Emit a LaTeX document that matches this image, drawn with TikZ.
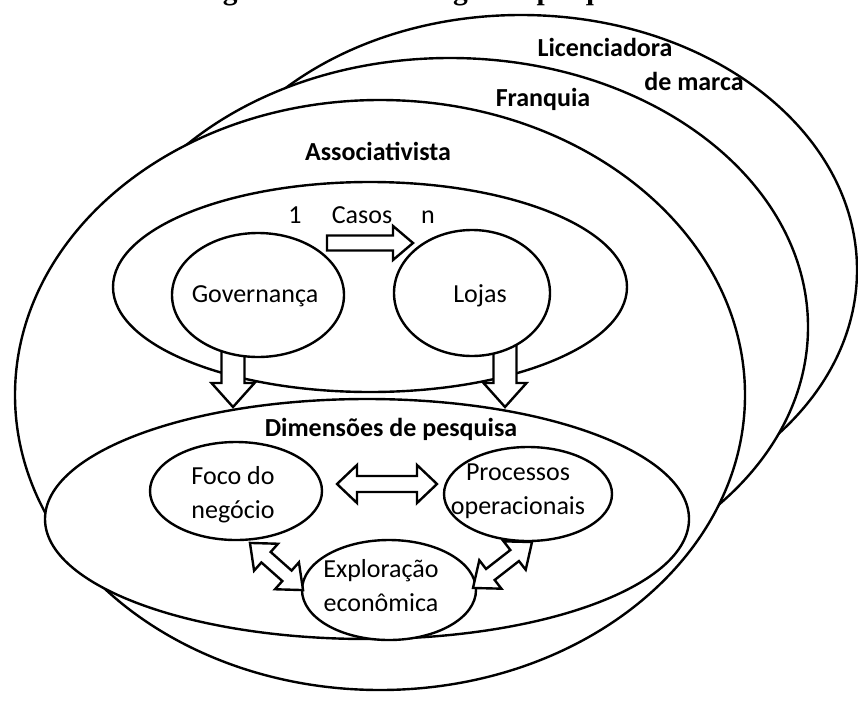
\documentclass[tikz,border=0pt]{standalone}
\usepackage{fontspec}
\setmainfont{Carlito}
\newfontfamily\titlefont{Liberation Serif}
\usetikzlibrary{shapes.geometric}
\begin{document}
\begin{tikzpicture}[x=1pt,y=-1pt,
  ell/.style={ellipse, draw, fill=white, line width=2.4pt, inner sep=0pt},
  lbl/.style={font=\fontsize{26}{34}\selectfont, text height=17pt, text depth=0pt, inner sep=0pt},
  blbl/.style={font=\fontsize{26}{34}\selectfont\bfseries, text height=17pt, text depth=0pt, inner sep=0pt},
  mlbl/.style={font=\fontsize{26}{34}\selectfont, align=center, inner sep=0pt},
  blk/.style={draw, fill=white, line width=2.4pt, line join=miter}
]
\useasboundingbox (0,0) rectangle (858,701);
\clip (0,0) rectangle (858,701);
\fill[white] (0,0) rectangle (858,701);

% title (cut off at the top)
\node[anchor=base east, inner sep=0pt, font=\titlefont\bfseries\fontsize{29.5}{30}\selectfont] (title) at (645,0) {Figura 1 – Metodologia da pesquisa};

% outer typology ellipses
\node[ell, minimum width=672pt, minimum height=510pt] (lic) at (521,270) {};
\node[ell, minimum width=716pt, minimum height=538pt] (fra) at (450,327) {};
\node[ell, minimum width=730pt, minimum height=590pt] (ass) at (380,395) {};

% cases container
\node[ell, minimum width=514pt, minimum height=210pt] (cas) at (370,287) {};

% down arrows
\draw[blk] (221.5,340) -- (244.5,340) -- (244.5,383) -- (254.5,383) -- (233,407) -- (211.5,383) -- (221.5,383) -- cycle;
\draw[blk] (493.5,335) -- (516.5,335) -- (516.5,383) -- (526.5,383) -- (505,407) -- (483.5,383) -- (493.5,383) -- cycle;

\node[ell, minimum width=172pt, minimum height=124pt] (gov) at (258,295) {};
\node[ell, minimum width=156pt, minimum height=126pt] (loj) at (472,293) {};

% Casos arrow
\draw[blk] (327,235.5) -- (393,235.5) -- (393,226) -- (413,243) -- (393,260) -- (393,250.5) -- (327,250.5) -- cycle;

% research dimensions
\node[ell, minimum width=644pt, minimum height=240pt] (dim) at (367,519) {};
\node[ell, minimum width=172pt, minimum height=98pt] (foc) at (236,491) {};
\node[ell, minimum width=168pt, minimum height=94pt] (pro) at (528,494) {};
\node[ell, minimum width=174pt, minimum height=100pt] (exp) at (389,590) {};

% double arrows
\draw[blk] (337,484) -- (357,465) -- (357,476) -- (417,476) -- (417,465) -- (437,484) -- (417,503) -- (417,492) -- (357,492) -- (357,503) -- cycle;
\begin{scope}[shift={(276.5,566.5)}, rotate=-41.6]
  \draw[blk] (-35.5,0) -- (-14,-18) -- (-14,-7) -- (14,-7) -- (14,-18) -- (35.5,0) -- (14,18) -- (14,7) -- (-14,7) -- (-14,18) -- cycle;
\end{scope}
\begin{scope}[shift={(502.5,565)}, rotate=37.9]
  \draw[blk] (-37.4,0) -- (-15.4,-18) -- (-15.4,-7) -- (15.4,-7) -- (15.4,-18) -- (37.4,0) -- (15.4,18) -- (15.4,7) -- (-15.4,7) -- (-15.4,18) -- cycle;
\end{scope}

% labels
\node[blbl] (tlic) at (605,48) {Licenciadora};
\node[blbl] (tmar) at (694,82) {de marca};
\node[blbl] (tfra) at (543,98) {Franquia};
\node[blbl] (tass) at (378,152) {Associativista};
\node[lbl] (tone) at (295,215) {1};
\node[lbl] (tcas) at (362,215) {Casos};
\node[lbl] (tn) at (428,215) {n};
\node[lbl] (tgov) at (255,294) {Governança};
\node[lbl] (tloj) at (480,294) {Lojas};
\node[blbl] (tdim) at (391,428) {Dimensões de pesquisa};
\node[mlbl] (tfoc) at (233,495) {Foco do\\negócio};
\node[mlbl] (tpro) at (518,491) {Processos\\operacionais};
\node[mlbl] (texp) at (381,586) {Exploração\\econômica};
\end{tikzpicture}
\end{document}
